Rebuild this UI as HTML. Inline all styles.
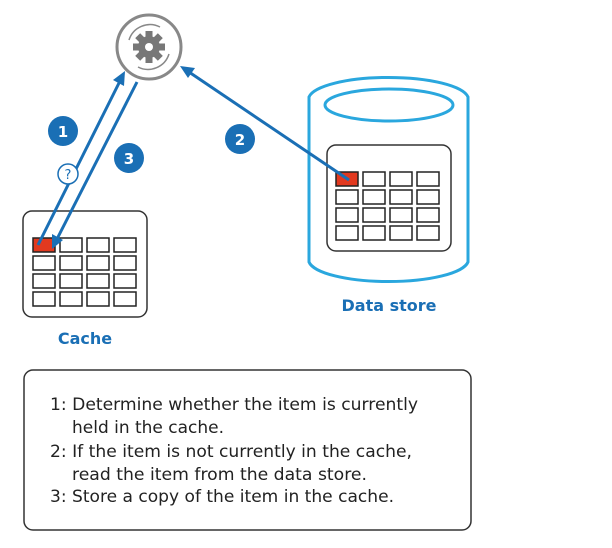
<!DOCTYPE html>
<html><head><style>
body{margin:0;background:#fff;width:612px;height:544px;overflow:hidden;font-family:"DejaVu Sans","Liberation Sans",sans-serif}
</style></head><body>
<svg width="612" height="544" xmlns="http://www.w3.org/2000/svg">
<path d="M309,97 A80,22 0 0 1 468,97 L468,262 A80,22 0 0 1 309,262 Z" fill="#fff" stroke="#2aa7de" stroke-width="3"/>
<ellipse cx="389" cy="105" rx="64" ry="16" fill="none" stroke="#2aa7de" stroke-width="3"/>
<g fill="#fff" stroke="#333" stroke-width="1.5">
<rect x="23" y="211" width="124" height="106" rx="9"/>
<rect x="327" y="145" width="124" height="106" rx="9"/>
</g>
<g fill="#fff" stroke="#222" stroke-width="1.5">
<rect x="33" y="238" width="22" height="14" fill="#e2391f"/><rect x="60" y="238" width="22" height="14"/><rect x="87" y="238" width="22" height="14"/><rect x="114" y="238" width="22" height="14"/>
<rect x="33" y="256" width="22" height="14"/><rect x="60" y="256" width="22" height="14"/><rect x="87" y="256" width="22" height="14"/><rect x="114" y="256" width="22" height="14"/>
<rect x="33" y="274" width="22" height="14"/><rect x="60" y="274" width="22" height="14"/><rect x="87" y="274" width="22" height="14"/><rect x="114" y="274" width="22" height="14"/>
<rect x="33" y="292" width="22" height="14"/><rect x="60" y="292" width="22" height="14"/><rect x="87" y="292" width="22" height="14"/><rect x="114" y="292" width="22" height="14"/>
<rect x="336" y="172" width="22" height="14" fill="#e2391f"/><rect x="363" y="172" width="22" height="14"/><rect x="390" y="172" width="22" height="14"/><rect x="417" y="172" width="22" height="14"/>
<rect x="336" y="190" width="22" height="14"/><rect x="363" y="190" width="22" height="14"/><rect x="390" y="190" width="22" height="14"/><rect x="417" y="190" width="22" height="14"/>
<rect x="336" y="208" width="22" height="14"/><rect x="363" y="208" width="22" height="14"/><rect x="390" y="208" width="22" height="14"/><rect x="417" y="208" width="22" height="14"/>
<rect x="336" y="226" width="22" height="14"/><rect x="363" y="226" width="22" height="14"/><rect x="390" y="226" width="22" height="14"/><rect x="417" y="226" width="22" height="14"/>
</g>
<circle cx="149" cy="47" r="32" fill="#fff" stroke="#888" stroke-width="3"/>
<path d="M129,40 A22,22 0 0 1 160,27" fill="none" stroke="#888" stroke-width="1.5"/>
<path d="M169,54 A22,22 0 0 1 138,67" fill="none" stroke="#888" stroke-width="1.5"/>
<g transform="translate(149,47)" fill="#777">
<circle r="11"/>
<rect x="-3.5" y="-16" width="7" height="32"/><rect x="-3.5" y="-16" width="7" height="32" transform="rotate(45)"/><rect x="-3.5" y="-16" width="7" height="32" transform="rotate(90)"/><rect x="-3.5" y="-16" width="7" height="32" transform="rotate(135)"/>
<circle r="4" fill="#fff"/>
</g>
<g stroke="#1a6fb5" stroke-width="3" fill="none">
<line x1="38" y1="245" x2="120" y2="81"/>
<line x1="137" y1="82" x2="57" y2="239"/>
<line x1="349" y1="180" x2="186" y2="70"/>
</g>
<path d="M125,71 L113,80 L124,86 Z" fill="#1a6fb5"/>
<path d="M52,249 L52,234 L63,240 Z" fill="#1a6fb5"/>
<path d="M180,66 L195,68 L188,78 Z" fill="#1a6fb5"/>
<g font-weight="bold" font-size="15" fill="#fff" text-anchor="middle">
<circle cx="63" cy="131" r="15" fill="#1a6fb5"/><text x="63" y="137">1</text>
<circle cx="129" cy="158" r="15" fill="#1a6fb5"/><text x="129" y="164">3</text>
<circle cx="240" cy="139" r="15" fill="#1a6fb5"/><text x="240" y="145">2</text>
</g>
<circle cx="68" cy="174" r="10" fill="#fff" stroke="#1a6fb5" stroke-width="1.5"/>
<text x="68" y="179" font-size="13" fill="#1a6fb5" text-anchor="middle">?</text>
<g font-weight="bold" font-size="16" fill="#1a6fb5" text-anchor="middle">
<text x="85" y="344">Cache</text>
<text x="389" y="311">Data store</text>
</g>
<rect x="24" y="370" width="447" height="160" rx="9" fill="#fff" stroke="#333" stroke-width="1.5"/>
<g font-size="17" fill="#222">
<text x="50" y="410" textLength="368" lengthAdjust="spacingAndGlyphs">1: Determine whether the item is currently</text>
<text x="72" y="433" textLength="152" lengthAdjust="spacingAndGlyphs">held in the cache.</text>
<text x="50" y="457" textLength="362" lengthAdjust="spacingAndGlyphs">2: If the item is not currently in the cache,</text>
<text x="72" y="480" textLength="295" lengthAdjust="spacingAndGlyphs">read the item from the data store.</text>
<text x="50" y="502" textLength="344" lengthAdjust="spacingAndGlyphs">3: Store a copy of the item in the cache.</text>
</g>
</svg>
</body></html>
